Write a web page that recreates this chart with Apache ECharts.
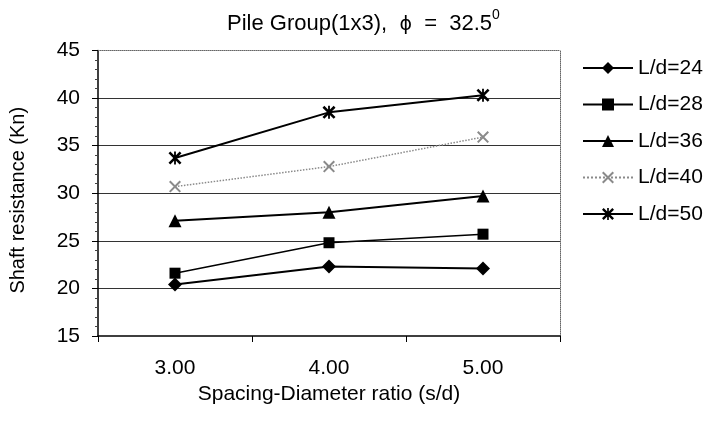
<!DOCTYPE html>
<html>
<head>
<meta charset="utf-8">
<script src="https://cdn.jsdelivr.net/npm/echarts@6/dist/echarts.min.js"></script>
<style>
  html, body { margin: 0; padding: 0; background: #fff; }
  #chart { width: 713px; height: 422px; }
</style>
</head>
<body>
<div id="chart"></div>
<script>
// Spacing-to-diameter ratios on the x axis
const spacingRatios = ['3.00', '4.00', '5.00'];

// Shaft resistance (kN) for each pile length-to-diameter ratio
const ld24 = [20.4, 22.3, 22.1];
const ld28 = [21.6, 24.8, 25.7];
const ld36 = [27.1, 28.0, 29.7];
const ld40 = [30.7, 32.8, 35.9];
const ld50 = [33.7, 38.5, 40.3];

const seriesNames = ['L/d=24', 'L/d=28', 'L/d=36', 'L/d=40', 'L/d=50'];

// Marker shapes: a thin "x" and an asterisk (x with a vertical bar)
const crossPath = 'path://M0,1.2 L1.2,0 L10,8.8 L8.8,10 Z M8.8,0 L10,1.2 L1.2,10 L0,8.8 Z';
const starPath = 'path://M0,1.4 L1.4,0 L10,8.6 L8.6,10 Z M8.6,0 L10,1.4 L1.4,10 L0,8.6 Z M4.3,0 L5.7,0 L5.7,10 L4.3,10 Z';

const font = 'Liberation Sans, Arial, sans-serif';

function lineSeries(name, data, symbol, size, color, width, type) {
  return {
    name: name,
    type: 'line',
    xAxisIndex: 0,
    yAxisIndex: 0,
    data: data,
    symbol: symbol,
    symbolSize: size,
    showAllSymbol: true,
    lineStyle: { color: color, width: width, type: type || 'solid' },
    itemStyle: { color: color },
    emphasis: { disabled: true },
    animation: false,
    z: 5
  };
}

const chart = echarts.init(document.getElementById('chart'), null, { renderer: 'canvas' });

chart.setOption({
  backgroundColor: '#ffffff',
  animation: false,
  title: {
    text: '{t|Pile Group(1x3),  }{p|ϕ}{t|  =  32.5}{s|0}',
    left: 222,
    top: 3,
    textStyle: {
      fontWeight: 'normal',
      rich: {
        t: { fontFamily: font, fontSize: 22, fontWeight: 'normal', color: '#000', verticalAlign: 'bottom', lineHeight: 27 },
        p: { fontFamily: 'DejaVu Sans, sans-serif', fontSize: 19, fontWeight: 'normal', color: '#000', verticalAlign: 'bottom', lineHeight: 25 },
        s: { fontFamily: font, fontSize: 14, fontWeight: 'normal', color: '#000', verticalAlign: 'top', lineHeight: 27, padding: [0, 0, 10, 0] }
      }
    }
  },
  legend: {
    orient: 'vertical',
    left: 582,
    top: 57,
    padding: 0,
    itemWidth: 50,
    itemHeight: 15,
    itemGap: 14.5,
    selectedMode: false,
    data: seriesNames,
    textStyle: { fontFamily: font, fontSize: 21, color: '#000', lineHeight: 22 }
  },
  grid: {
    left: 93.5,
    right: 153,
    top: 50.5,
    bottom: 86,
    containLabel: false
  },
  xAxis: [
    {
      type: 'category',
      data: spacingRatios,
      boundaryGap: true,
      position: 'bottom',
      name: 'Spacing-Diameter ratio (s/d)',
      nameLocation: 'middle',
      nameGap: 46,
      nameTextStyle: { fontFamily: font, fontSize: 21, color: '#000' },
      axisLine: { show: true, lineStyle: { color: '#000', width: 1.5 } },
      axisTick: { show: true, alignWithLabel: false, length: 6, inside: false, lineStyle: { color: '#000', width: 1 } },
      axisLabel: { fontFamily: font, fontSize: 21, color: '#000', margin: 22 },
      splitLine: { show: false }
    },
    {
      // top border of the plot area
      type: 'category',
      data: spacingRatios,
      position: 'top',
      axisLine: { show: true, lineStyle: { color: '#666', width: 1, type: 'dotted' } },
      axisTick: { show: false },
      axisLabel: { show: false },
      splitLine: { show: false }
    }
  ],
  yAxis: [
    {
      type: 'value',
      min: 15,
      max: 45,
      interval: 5,
      position: 'left',
      name: 'Shaft resistance (Kn)',
      nameLocation: 'middle',
      nameGap: 70,
      nameRotate: 90,
      nameTextStyle: { fontFamily: font, fontSize: 20, color: '#000', padding: [0, 0, 0, -14] },
      axisLine: { show: true, lineStyle: { color: '#000', width: 1.5 } },
      axisTick: { show: true, length: 6, inside: false, lineStyle: { color: '#000', width: 1 } },
      minorTick: { show: true, splitNumber: 5, length: 3, lineStyle: { color: '#444', width: 1 } },
      axisLabel: { fontFamily: font, fontSize: 21, color: '#000', margin: 18 },
      splitLine: {
        show: true,
        lineStyle: {
          color: ['rgba(0,0,0,0)', '#333', '#333', '#333', '#333', '#333', 'rgba(0,0,0,0)'],
          width: 1
        }
      }
    },
    {
      // right border of the plot area
      type: 'value',
      min: 15,
      max: 45,
      interval: 5,
      position: 'right',
      axisLine: { show: true, lineStyle: { color: '#666', width: 1, type: 'dotted' } },
      axisTick: { show: false },
      axisLabel: { show: false },
      splitLine: { show: false }
    }
  ],
  series: [
    lineSeries(seriesNames[0], ld24, 'diamond', 14, '#000', 2),
    lineSeries(seriesNames[1], ld28, 'rect', 11, '#000', 1.5),
    lineSeries(seriesNames[2], ld36, 'triangle', 13, '#000', 2),
    lineSeries(seriesNames[3], ld40, crossPath, 12, '#8a8a8a', 1.5, 'dotted'),
    lineSeries(seriesNames[4], ld50, starPath, 13, '#000', 2)
  ]
});
</script>
</body>
</html>
